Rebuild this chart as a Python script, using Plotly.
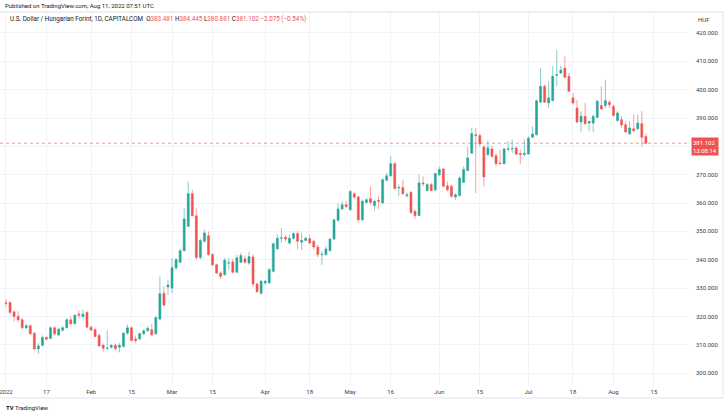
import pandas as pd
import plotly.graph_objects as go

# ---------------- data (USD/HUF daily, CAPITALCOM) ----------------
start_date = "2022-01-03"
end_date = "2022-08-11"

opens = [
    324.8, 324.9, 321.6, 320.0, 318.8, 316.0, 316.7, 314.1, 308.5, 309.8,
    312.6, 312.2, 316.0, 313.4, 315.1, 316.0, 318.8, 317.4, 320.8, 319.9,
    321.4, 316.2, 315.3, 313.3, 309.8, 308.6, 309.1, 309.8, 309.1, 309.4,
    314.1, 316.0, 312.0, 312.0, 313.9, 314.9, 315.3, 313.9, 319.1, 328.2,
    330.4, 330.0, 337.1, 339.1, 343.2, 351.8, 363.3, 355.5, 340.8, 346.5,
    348.5, 341.8, 338.2, 335.3, 334.7, 338.8, 339.2, 335.6, 339.1, 340.3,
    338.8, 341.0, 331.4, 328.2, 331.8, 331.8, 335.9, 343.8, 347.6, 347.9,
    345.9, 347.6, 349.2, 346.2, 346.8, 347.4, 346.5, 344.5, 341.8, 341.8,
    343.2, 347.3, 353.9, 357.9, 359.4, 357.6, 363.3, 362.1, 354.1, 360.2,
    361.5, 359.1, 360.9, 360.0, 368.0, 369.6, 373.9, 365.3, 365.5, 362.6,
    363.8, 357.1, 355.6, 367.1, 364.4, 366.5, 364.7, 370.0, 372.0, 366.1,
    365.9, 362.1, 362.6, 367.3, 371.5, 377.6, 384.1, 383.8, 379.8, 377.1,
    379.1, 376.7, 374.1, 373.9, 379.0, 379.1, 379.4, 377.5, 377.1, 377.3,
    383.2, 384.1, 395.6, 401.2, 395.3, 396.1, 405.1, 405.9, 407.6, 404.7,
    397.1, 393.5, 388.6, 390.6, 388.2, 388.2, 390.2, 394.4, 394.4, 395.6,
    394.1, 389.1, 389.4, 387.6, 384.4, 386.2, 386.2, 388.0, 383.481,
]
highs = [
    326.1, 325.3, 322.1, 321.8, 319.4, 317.4, 317.1, 314.4, 310.6, 313.3,
    312.9, 316.5, 316.5, 316.0, 316.5, 319.4, 320.0, 320.7, 322.1, 322.5,
    321.8, 316.7, 315.8, 313.9, 310.4, 315.0, 310.4, 310.4, 310.6, 314.5,
    317.1, 316.5, 313.2, 314.4, 315.5, 316.5, 317.4, 320.0, 334.1, 330.6,
    333.0, 340.6, 340.6, 343.8, 358.2, 367.6, 364.7, 358.2, 347.3, 350.6,
    350.0, 342.4, 338.6, 335.9, 340.6, 340.6, 340.2, 341.8, 342.4, 341.4,
    342.9, 342.0, 332.0, 332.9, 332.9, 337.1, 346.1, 348.8, 351.2, 348.8,
    348.8, 350.0, 350.0, 349.4, 348.0, 348.8, 347.1, 345.3, 343.0, 344.7,
    347.6, 354.4, 360.0, 360.6, 360.6, 364.5, 363.8, 362.6, 361.2, 361.8,
    365.9, 361.2, 362.4, 368.8, 370.6, 376.7, 374.4, 366.5, 368.2, 363.8,
    364.1, 357.6, 370.0, 369.4, 367.1, 367.1, 370.6, 372.9, 372.4, 367.6,
    366.5, 363.5, 369.4, 372.9, 379.8, 386.5, 386.5, 384.5, 380.2, 382.1,
    380.0, 377.6, 378.8, 379.4, 381.8, 382.4, 380.0, 378.8, 382.4, 383.5,
    387.1, 396.5, 407.6, 401.8, 403.0, 408.2, 414.1, 408.4, 411.8, 405.9,
    398.8, 396.5, 392.4, 395.3, 389.0, 391.2, 396.5, 401.2, 403.5, 396.1,
    394.7, 392.4, 390.6, 388.8, 388.8, 391.2, 391.2, 392.4, 384.445,
]
lows = [
    323.3, 320.9, 318.2, 317.9, 315.5, 315.5, 313.5, 308.2, 306.8, 309.4,
    311.5, 312.0, 313.3, 313.0, 314.7, 315.8, 317.1, 317.1, 319.4, 319.6,
    316.0, 314.8, 312.6, 309.4, 307.6, 308.5, 308.6, 308.2, 307.3, 309.1,
    313.5, 311.2, 310.6, 311.8, 313.5, 314.7, 312.9, 313.5, 318.6, 323.5,
    327.6, 328.2, 336.5, 338.8, 342.9, 351.5, 355.3, 340.0, 340.2, 346.1,
    341.4, 337.6, 335.1, 333.2, 334.4, 336.5, 335.1, 335.3, 338.8, 338.6,
    338.2, 330.6, 328.2, 327.6, 331.2, 331.5, 335.5, 343.5, 346.0, 346.5,
    345.3, 347.1, 343.5, 343.5, 346.5, 345.3, 343.5, 340.9, 338.2, 341.4,
    342.9, 346.8, 353.5, 357.6, 358.2, 357.4, 361.4, 353.2, 353.5, 359.8,
    359.4, 357.4, 357.9, 359.8, 367.6, 369.4, 364.7, 362.4, 362.9, 361.8,
    356.2, 354.4, 355.3, 365.9, 364.1, 364.1, 364.1, 369.4, 365.5, 364.1,
    361.8, 361.2, 362.4, 367.1, 371.2, 377.4, 363.5, 380.0, 365.9, 376.5,
    375.9, 372.9, 373.5, 373.5, 378.2, 377.6, 376.8, 373.8, 376.5, 377.1,
    383.0, 383.8, 395.3, 395.3, 393.5, 395.9, 401.2, 405.5, 404.1, 399.2,
    394.7, 388.2, 385.1, 387.6, 385.3, 385.1, 389.9, 393.0, 393.5, 393.5,
    390.6, 388.6, 386.5, 384.7, 384.1, 384.9, 385.9, 380.0, 380.881,
]
closes = [
    324.6, 321.4, 320.0, 318.8, 316.0, 316.7, 313.9, 308.5, 309.6, 312.6,
    312.0, 316.0, 313.9, 315.5, 316.0, 318.8, 317.4, 320.4, 320.4, 320.8,
    316.2, 315.2, 312.9, 309.6, 308.8, 308.8, 309.8, 308.6, 309.8, 314.1,
    316.0, 311.5, 311.5, 313.9, 314.9, 315.8, 313.5, 319.6, 328.0, 324.0,
    331.1, 337.2, 340.0, 343.2, 354.4, 363.3, 355.5, 340.8, 346.8, 349.4,
    341.8, 338.2, 335.3, 334.1, 339.8, 338.9, 335.6, 340.7, 341.5, 339.1,
    341.1, 331.4, 328.8, 332.4, 332.4, 336.5, 345.6, 347.6, 347.7, 347.3,
    347.6, 349.2, 346.5, 346.8, 347.6, 345.9, 344.5, 341.8, 341.9, 343.8,
    347.3, 354.1, 357.9, 359.4, 358.8, 364.1, 362.1, 354.1, 360.6, 361.2,
    360.2, 360.6, 360.6, 368.2, 369.6, 373.9, 365.1, 365.5, 363.3, 362.9,
    356.7, 355.6, 367.1, 366.8, 366.5, 364.4, 370.4, 371.8, 365.9, 364.7,
    362.4, 362.9, 368.8, 371.8, 375.9, 384.5, 383.8, 380.9, 369.2, 379.4,
    376.5, 373.9, 373.9, 379.1, 379.1, 379.2, 377.3, 377.1, 377.6, 382.9,
    384.4, 396.1, 401.2, 395.6, 397.1, 404.7, 405.3, 406.9, 404.4, 399.4,
    395.3, 388.6, 390.6, 388.0, 388.8, 390.6, 395.9, 393.2, 396.1, 394.7,
    390.9, 391.8, 387.6, 385.1, 386.5, 385.5, 388.2, 383.177, 381.102,
]

tick_dates = ["2022-01-03", "2022-01-17", "2022-02-01", "2022-02-15", "2022-03-01",
              "2022-03-15", "2022-04-01", "2022-04-18", "2022-05-02", "2022-05-16",
              "2022-06-01", "2022-06-15", "2022-07-01", "2022-07-18", "2022-08-01",
              "2022-08-15"]
tick_labels = ["2022", "17", "Feb", "15", "Mar", "15", "Apr", "18", "May", "16",
               "Jun", "15", "Jul", "18", "Aug", "15"]

price_ticks = [300, 310, 320, 330, 340, 350, 360, 370, 380, 390, 400, 410, 420]
hidden_price_ticks = [380]  # covered by the last-price label in the reference

last_price = 381.102
countdown = "13:08:14"
header_title = "U.S. Dollar / Hungarian Forint, 1D, CAPITALCOM"
ohlc_header = {"O": "383.481", "H": "384.445", "L": "380.881", "C": "381.102"}
change_text = "\u22122.075 (\u22120.54%)"
published = "Published on TradingView.com, Aug 11, 2022 07:51 UTC"

# ---------------- build ----------------
dates = pd.bdate_range(start_date, end_date)
assert len(dates) == len(opens) == len(highs) == len(lows) == len(closes)
all_days = list(pd.bdate_range(start_date, "2022-08-31"))
idx_of = {d.strftime("%Y-%m-%d"): i for i, d in enumerate(all_days)}
xs = list(range(len(dates)))
tick_vals = [idx_of[d] for d in tick_dates]
price_tick_labels = ["" if v in hidden_price_ticks else f"{v:.3f}" for v in price_ticks]

GREEN = "#26a69a"
RED = "#ef5350"
TXT = "#131722"
AXT = "#3a3e4a"
FONT = "Roboto"

W, H = 727, 415
ML, MR, MT, MB = 0, 37, 12, 30
plot_w = W - ML - MR
plot_h = H - MT - MB


def py(px):
    """pixel y (from top) -> paper y"""
    return (H - MB - px) / plot_h


def px_x(px):
    return (px - ML) / plot_w


fig = go.Figure()
fig.add_trace(go.Candlestick(
    x=xs, open=opens, high=highs, low=lows, close=closes,
    increasing=dict(line=dict(color="rgba(38,166,154,0.55)", width=1), fillcolor=GREEN),
    decreasing=dict(line=dict(color="rgba(239,83,80,0.55)", width=1), fillcolor=RED),
    whiskerwidth=0,
    showlegend=False, hoverinfo="skip",
))

x0 = -1.48
x1 = 168.9
y0 = 295.8
y1 = 427.4

fig.update_layout(
    width=W, height=H,
    margin=dict(l=ML, r=MR, t=MT, b=MB, pad=0),
    paper_bgcolor="white", plot_bgcolor="white",
    font=dict(family=FONT, size=6, color=TXT),
    showlegend=False,
    xaxis=dict(
        range=[x0, x1], tickmode="array", tickvals=tick_vals, ticktext=tick_labels,
        showgrid=True, gridcolor="#f0f3fa", gridwidth=1, zeroline=False,
        showline=False, ticks="", tickfont=dict(size=6, color=AXT),
        ticklabeloverflow="allow", ticklabelstandoff=2,
        rangeslider=dict(visible=False), fixedrange=True,
    ),
    yaxis=dict(
        range=[y0, y1], side="right", tickmode="array", tickvals=price_ticks,
        ticktext=price_tick_labels, showgrid=True, gridcolor="#f0f3fa", gridwidth=1,
        zeroline=False, showline=False, ticks="", tickfont=dict(size=6, color=AXT),
        ticklabelstandoff=5, fixedrange=True,
    ),
)

# frame lines around the chart
frame_col = "#e0e3eb"
fig.add_shape(type="line", xref="paper", yref="paper", x0=0, x1=px_x(723),
              y0=py(12), y1=py(12), line=dict(color=frame_col, width=1))
fig.add_shape(type="line", xref="paper", yref="paper", x0=0, x1=px_x(723),
              y0=py(398), y1=py(398), line=dict(color=frame_col, width=1))
fig.add_shape(type="line", xref="paper", yref="paper", x0=px_x(723), x1=px_x(723),
              y0=py(12), y1=py(398), line=dict(color=frame_col, width=1))

# last price line
fig.add_shape(type="line", xref="paper", yref="y", x0=0, x1=1, y0=last_price, y1=last_price,
              line=dict(color="rgba(239,83,80,0.6)", width=1, dash="dot"))

# last price label
fig.add_annotation(xref="paper", yref="y", x=1, y=last_price, xanchor="left", yanchor="middle",
                   yshift=-3, xshift=1, showarrow=False,
                   text=f"{last_price:.3f}<br>{countdown}", align="left",
                   font=dict(size=6, color="white", family=FONT),
                   bgcolor=RED, borderpad=1)

# currency
fig.add_annotation(xref="paper", yref="paper", x=px_x(696), y=py(19), xanchor="left",
                   yanchor="middle", showarrow=False, text="HUF",
                   font=dict(size=6, color=AXT, family=FONT))

# published line
fig.add_annotation(xref="paper", yref="paper", x=px_x(3), y=py(6), xanchor="left",
                   yanchor="middle", showarrow=False, text=published,
                   font=dict(size=6, color=TXT, family=FONT))

# header with OHLC
parts = [header_title, "  "]
for k, v in ohlc_header.items():
    parts.append(f"{k}<span style='color:{RED}'>{v}</span> ")
parts.append(f"<span style='color:{RED}'>{change_text}</span>")
fig.add_annotation(xref="paper", yref="paper", x=px_x(8), y=py(19), xanchor="left",
                   yanchor="middle", showarrow=False, text="".join(parts),
                   font=dict(size=6.3, color=TXT, family=FONT))

# logo
fig.add_annotation(xref="paper", yref="paper", x=px_x(4), y=py(407), xanchor="left",
                   yanchor="middle", showarrow=False,
                   text="<b>TV</b> TradingView",
                   font=dict(size=6, color=TXT, family=FONT))

fig.write_html("out.html", config={"displayModeBar": False},
               post_script="document.body.style.margin='0px';document.body.style.overflow='hidden';")
